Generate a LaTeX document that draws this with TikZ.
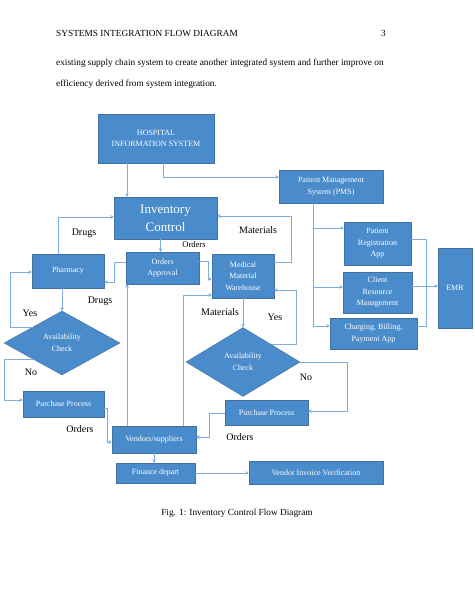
\documentclass[tikz,border=0pt]{standalone}
\usepackage{fontspec}
\setmainfont{Liberation Serif}
\usetikzlibrary{shapes.geometric,arrows.meta}
\definecolor{boxblue}{RGB}{74,139,204}
\definecolor{boxedge}{RGB}{65,113,156}
\definecolor{linkblue}{RGB}{125,172,222}
\begin{document}
\begin{tikzpicture}[x=1pt,y=-1pt,
    box/.style={rectangle, fill=boxblue, draw=boxedge, line width=0.4pt, text=white,
      align=center, inner sep=1pt, font=\fontsize{8}{11.5}\selectfont},
    diam/.style={diamond, fill=boxblue, draw=boxedge, line width=0.4pt, text=white,
      align=center, inner sep=0pt, font=\fontsize{8}{11.5}\selectfont},
    lbl/.style={font=\fontsize{10}{12}\selectfont, text=black},
    flow/.style={draw=linkblue, line width=0.8pt, -{Stealth[length=3.5pt,width=3.5pt]}},
    link/.style={draw=linkblue, line width=0.8pt}]
      % Page
      \useasboundingbox[fill=white] (0,0) rectangle (474,613);

      % En-tete et texte
      \node[anchor=base west, inner sep=0pt, font=\fontsize{9.3}{11}\selectfont] (head) at (56,36) {SYSTEMS INTEGRATION FLOW DIAGRAM};
      \node[anchor=base east, inner sep=0pt, font=\fontsize{9.3}{11}\selectfont] (pagenum) at (386,36) {3};
      \node[anchor=base west, inner sep=0pt, font=\fontsize{9.3}{11}\selectfont] (line1) at (56,65) {existing supply chain system to create another integrated system and further improve on};
      \node[anchor=base west, inner sep=0pt, font=\fontsize{9.3}{11}\selectfont] (line2) at (56,86) {efficiency derived from system integration.};

      % Boites
      \node[box, minimum width=116pt, minimum height=49pt] (his) at (156,138.5) {HOSPITAL\\INFORMATION SYSTEM};
      \node[box, minimum width=103pt, minimum height=42pt, font=\fontsize{13}{18}\selectfont] (inv) at (165.5,218) {Inventory\\Control};
      \node[box, minimum width=104pt, minimum height=33pt] (pms) at (331,186.5) {Patient Management\\System (PMS)};
      \node[box, minimum width=72pt, minimum height=34pt] (pharm) at (68,271) {Pharmacy};
      \node[box, minimum width=73pt, minimum height=32pt] (oapp) at (162.5,268) {Orders\\Approval};
      \node[box, minimum width=62pt, minimum height=44pt] (mmw) at (243,276) {Medical\\Material\\Warehouse};
      \node[box, minimum width=67pt, minimum height=43pt] (preg) at (377.5,243.5) {Patient\\Registration\\App};
      \node[box, minimum width=69pt, minimum height=41pt] (crm) at (377.5,292.5) {Client\\Resource\\Management};
      \node[box, minimum width=87pt, minimum height=31pt] (chg) at (373.5,333.5) {Charging, Billing,\\Payment App};
      \node[box, minimum width=34pt, minimum height=80pt] (emr) at (455,288) {EMR};
      \node[diam, minimum width=116pt, minimum height=64pt] (diaL) at (62,343) {Availability\\Check};
      \node[diam, minimum width=114pt, minimum height=69pt] (diaR) at (243,362) {Availability\\Check};
      \node[box, minimum width=81pt, minimum height=26pt] (purL) at (63.5,404) {Purchase Process};
      \node[box, minimum width=83pt, minimum height=25pt] (purR) at (266.5,412.5) {Purchase Process};
      \node[box, minimum width=84pt, minimum height=27pt] (vend) at (154,439.5) {Vendors/suppliers};
      \node[box, minimum width=79pt, minimum height=20pt] (fin) at (155.5,473) {Finance depart};
      \node[box, minimum width=134pt, minimum height=23pt] (viv) at (316,472.5) {Vendor Invoice Verification};

      % Liens
      \draw[flow] ([xshift=-29pt]his.south) -- ([xshift=-29pt]his.south |- inv.north);
      \draw[flow] ([xshift=7pt]his.south) |- ([yshift=9.5pt]pms.west);
      \draw[flow] ([xshift=-10pt]pharm.north) |- ([yshift=1pt]inv.west);
      \draw[flow] ([yshift=14pt]mmw.east) -- ++(17,0) |- ([yshift=2pt]inv.east);
      \draw[flow] ([xshift=-5pt]inv.south) -- ([xshift=-5pt]inv.south |- oapp.north);
      \draw[flow] ([yshift=6pt]oapp.west) -- ++(-11,0) |- ([yshift=-11pt]pharm.east);
      \draw[flow] ([yshift=7pt]oapp.east) -- ++(9,0) |- ([yshift=-3pt]mmw.west);
      \draw[flow] (pharm.south -| diaL.north) -- (diaL.north);
      \draw[flow] (diaL.north west) -- ++(-23,0) |- ([yshift=-1pt]pharm.west);
      \draw[flow] (diaL.south west) -- ++(-29,0) |- ([yshift=4pt]purL.west);
      \draw[flow] ([yshift=-4pt]purL.east) -- ++(3,0) |- ([yshift=-2.5pt]vend.west);
      \draw[flow] ([xshift=-27pt]vend.north) -- ([xshift=-27pt]vend.north |- oapp.south);
      \draw[flow] ([xshift=29pt]vend.north) |- ([yshift=-19pt]mmw.west);
      \draw[flow] (mmw.south -| diaR.north) -- (diaR.north);
      \draw[flow] (diaR.north east) -- ++(25,0) |- ([yshift=-14pt]mmw.east);
      \draw[flow] (diaR.east) -- ++(47,0) |- ([yshift=1.5pt]purR.east);
      \draw[flow] ([yshift=-0.5pt]purR.west) -- ++(-15,0) |- ([yshift=2.5pt]vend.east);
      \draw[flow] (vend.south) -- (vend.south |- fin.north);
      \draw[flow] (fin.east) -- (fin.east -| viv.west);

      % PMS et EMR
      \coordinate (bus) at ([xshift=-18pt]pms.south);
      \draw[flow] (bus) |- ([yshift=15.5pt]preg.west);
      \draw[flow] (bus) |- ([yshift=5.5pt]crm.west);
      \draw[flow] (bus) |- ([yshift=7.5pt]chg.west);
      \draw[link] ([yshift=4.5pt]preg.east) -- ++(15,0) |- ([yshift=7.5pt]chg.east);
      \draw[flow] ([yshift=6.5pt]crm.east) -- ([yshift=6.5pt]crm.east -| emr.west);

      % Etiquettes
      \node[lbl] (drugsA) at (84,233) {Drugs};
      \node[lbl, font=\fontsize{8.5}{10}\selectfont] (ordersA) at (194,245) {Orders};
      \node[lbl] (matA) at (258,230) {Materials};
      \node[lbl] (drugsB) at (100,301) {Drugs};
      \node[lbl] (yesA) at (30,313) {Yes};
      \node[lbl] (noA) at (31,372) {No};
      \node[lbl] (ordersB) at (80,429) {Orders};
      \node[lbl] (matB) at (220,312) {Materials};
      \node[lbl] (yesB) at (275,317) {Yes};
      \node[lbl] (noB) at (306,377) {No};
      \node[lbl] (ordersC) at (240,437) {Orders};

      % Legende
      \node[font=\fontsize{9.3}{11}\selectfont] (caption) at (237,513) {Fig. 1: Inventory Control Flow Diagram};
    \end{tikzpicture}
\end{document}
